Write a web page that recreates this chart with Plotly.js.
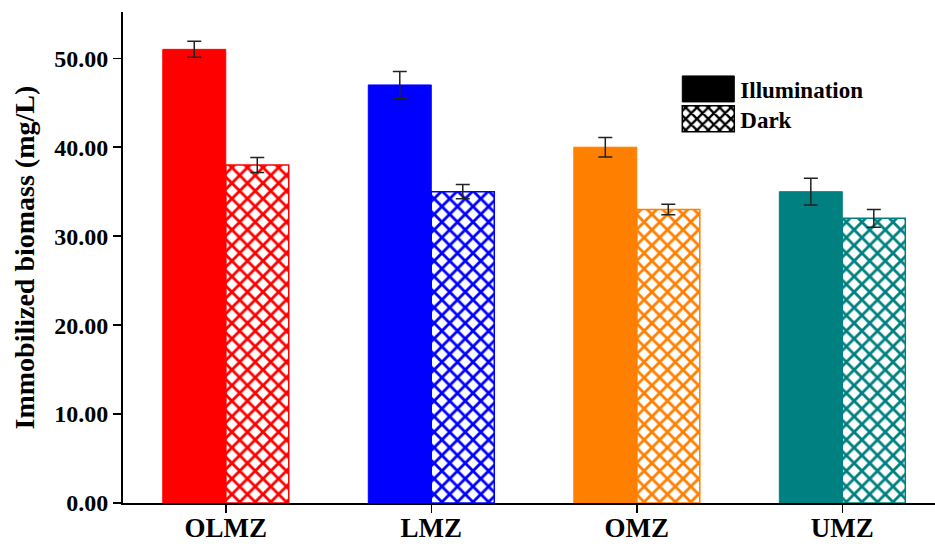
<!DOCTYPE html>
<html><head><meta charset="utf-8">
<script src="https://cdn.plot.ly/plotly-3.0.1.min.js"></script>
<style>html,body{margin:0;padding:0;background:#fff}#chart{width:935px;height:547px}</style>
</head><body><div id="chart"></div>
<script>
const categories = ['OLMZ', 'LMZ', 'OMZ', 'UMZ'];
const illumination = [51, 47, 40, 35];
const illuminationErr = [0.9, 1.5, 1.1, 1.5];
const dark = [38, 35, 33, 32];
const darkErr = [0.85, 0.8, 0.6, 1.0];
const colors = ['#ff0000', '#0000ff', '#ff7f00', '#008080'];
const yTicks = [0, 10, 20, 30, 40, 50];
const yTickLabels = ['0.00', '10.00', '20.00', '30.00', '40.00', '50.00'];
const yTitle = 'Immobilized biomass (mg/L)';

const font = 'Liberation Serif, Times New Roman, serif';
const errStyle = {type: 'data', visible: true, color: '#222', thickness: 1.5, width: 7};

const traces = [
  {type: 'bar', x: categories, y: illumination, name: 'Illumination', showlegend: false,
   error_y: Object.assign({array: illuminationErr}, errStyle),
   marker: {color: colors, line: {color: colors, width: 1}}},
  {type: 'bar', x: categories, y: dark, name: 'Dark', showlegend: false,
   error_y: Object.assign({array: darkErr}, errStyle),
   marker: {color: colors, line: {color: colors, width: 1.5},
            pattern: {shape: 'x', fgcolor: colors, bgcolor: '#ffffff', size: 11, solidity: 0.45, fillmode: 'replace'}}},
  {type: 'bar', x: [0], y: [null], name: 'Illumination', xaxis: 'x2', yaxis: 'y2',
   marker: {color: '#000000', line: {color: '#000', width: 1}}},
  {type: 'bar', x: [0], y: [null], name: 'Dark', xaxis: 'x2', yaxis: 'y2',
   marker: {color: '#ffffff', line: {color: '#000', width: 1.5},
            pattern: {shape: 'x', fgcolor: '#000000', bgcolor: '#ffffff', size: 10, solidity: 0.5, fillmode: 'replace'}}}
];

const layout = {
  width: 935, height: 547,
  margin: {l: 123, r: 0, t: 12, b: 44},
  paper_bgcolor: '#fff', plot_bgcolor: '#fff',
  barmode: 'group', bargap: 0.387, bargroupgap: 0,
  font: {family: font, color: '#000'},
  xaxis: {type: 'category', range: [-0.5, 3.451], showline: true, linecolor: '#000', linewidth: 2,
          ticks: 'outside', ticklen: 8, tickwidth: 1.5, tickcolor: '#000', showgrid: false, zeroline: false,
          ticklabelstandoff: -8,
          tickfont: {family: font, size: 27, color: '#000', weight: 'bold'}},
  yaxis: {range: [0, 55.2], showline: true, linecolor: '#000', linewidth: 2,
          ticks: 'outside', ticklen: 8, tickwidth: 1.5, tickcolor: '#000', showgrid: false, zeroline: false,
          tickvals: yTicks, ticktext: yTickLabels,
          tickfont: {family: font, size: 24, color: '#000', weight: 'bold'}},
  annotations: [{text: yTitle, textangle: -90, xref: 'paper', yref: 'paper', x: -0.1207, y: 0.5,
                 xanchor: 'center', yanchor: 'middle', showarrow: false,
                 font: {family: font, size: 28, color: '#000', weight: 'bold'}}],
  xaxis2: {overlaying: 'x', visible: false, range: [0, 1]},
  yaxis2: {overlaying: 'y', visible: false, range: [0, 1]},
  showlegend: true,
  legend: {x: 0.674, y: 0.887, xanchor: 'left', yanchor: 'top', bgcolor: 'rgba(0,0,0,0)',
           font: {family: font, size: 23, color: '#000', weight: 'bold'}, itemwidth: 60}
};

Plotly.newPlot('chart', traces, layout, {displayModeBar: false, staticPlot: true}).then(function (gd) {
  document.querySelectorAll('#chart .legend .traces').forEach(function (tr, i) {
    const txt = tr.querySelector('text.legendtext');
    const tx = parseFloat(txt.getAttribute('x')) || 40;
    tr.querySelectorAll('.legendpoints path').forEach(function (p) {
      p.setAttribute('d', 'M-26,-13H26V13H-26Z');
      p.setAttribute('transform', 'translate(' + (tx - 6 - 26) + ',0)');
    });
    const m = /translate\(([-\d.]+)[ ,]+([-\d.]+)\)/.exec(tr.getAttribute('transform') || '');
    if (m) tr.setAttribute('transform', 'translate(' + m[1] + ',' + (parseFloat(m[2]) - 3 * i) + ')');
  });
});
</script></body></html>
